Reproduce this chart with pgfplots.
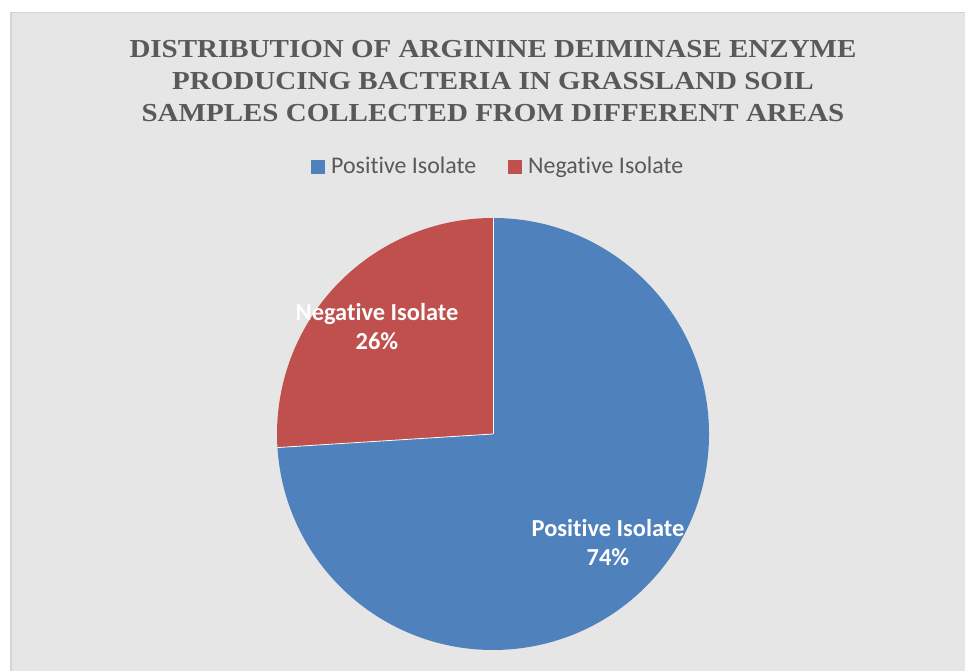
\documentclass[border=0pt]{standalone}
\usepackage{pgfplots}
\usepackage{pgfplotstable}
\pgfplotsset{compat=1.18}
\usepackage{fontspec}
\setmainfont{Liberation Serif}
\newfontfamily\carlito[Ligatures=NoCommon]{Carlito}
\definecolor{posblue}{HTML}{4F81BD}
\definecolor{negred}{HTML}{C0504D}
\definecolor{bgc}{HTML}{E6E6E6}
\definecolor{bord}{HTML}{D4D4D4}
\definecolor{titlec}{HTML}{595959}
\pgfplotstableread{
label value
Positive 74
Negative 26
}\piedata
\begin{document}
\begin{tikzpicture}[x=1bp,y=1bp]
\useasboundingbox (0,0) rectangle (965,671);
\fill[white] (0,0) rectangle (965,671);
\fill[bgc] (10,0) rectangle (965,659);
\draw[bord,line width=1.5bp] (10.75,0) -- (10.75,658.25) -- (965,658.25);
\begin{axis}[at={(0,0)},anchor=south west,scale only axis,width=965bp,height=671bp,
  xmin=0,xmax=965,ymin=0,ymax=671,hide axis,clip=false]
\pgfplotstablegetelem{0}{value}\of\piedata \let\vpos\pgfplotsretval
\pgfplotstablegetelem{1}{value}\of\piedata \let\vneg\pgfplotsretval
\pgfmathsetmacro{\apos}{90-3.6*\vpos}
\pgfmathsetmacro{\aneg}{\apos-3.6*\vneg}
\fill[posblue] (axis cs:493,237) -- ++(90:216bp) arc[start angle=90,end angle=\apos,radius=216bp] -- cycle;
\fill[negred] (axis cs:493,237) -- ++(\apos:216bp) arc[start angle=\apos,end angle=\aneg,radius=216bp] -- cycle;
\draw[white!85!bgc,line width=0.8bp] (axis cs:493,237) -- ++(90:216bp);
\draw[white!85!bgc,line width=0.8bp] (axis cs:493,237) -- ++(\apos:216bp);
% data labels
\node[text=white,font=\carlito\bfseries\fontsize{24.5}{29}\selectfont,align=center] at (axis cs:377,344.5) {Negative Isolate\\\vneg\%};
\node[text=white,font=\carlito\bfseries\fontsize{24.5}{29}\selectfont,align=center] at (axis cs:608,128.5) {Positive Isolate\\\vpos\%};
% legend
\fill[posblue] (axis cs:311,497) rectangle (axis cs:325,511);
\node[anchor=base west,inner sep=0pt,text=titlec,font=\carlito\fontsize{24}{28}\selectfont] at (axis cs:331,497) {Positive Isolate};
\fill[negred] (axis cs:508,497) rectangle (axis cs:522,511);
\node[anchor=base west,inner sep=0pt,text=titlec,font=\carlito\fontsize{24}{28}\selectfont] at (axis cs:528,497) {Negative Isolate};
% title
\node[text=titlec,font=\bfseries\fontsize{26}{32}\selectfont,align=center] at (axis cs:493,590) {\scalebox{1.12}[1]{DISTRIBUTION OF ARGININE DEIMINASE ENZYME}\\\scalebox{1.12}[1]{PRODUCING BACTERIA IN GRASSLAND SOIL}\\\scalebox{1.12}[1]{SAMPLES COLLECTED FROM DIFFERENT AREAS}};
\end{axis}
\end{tikzpicture}
\end{document}
